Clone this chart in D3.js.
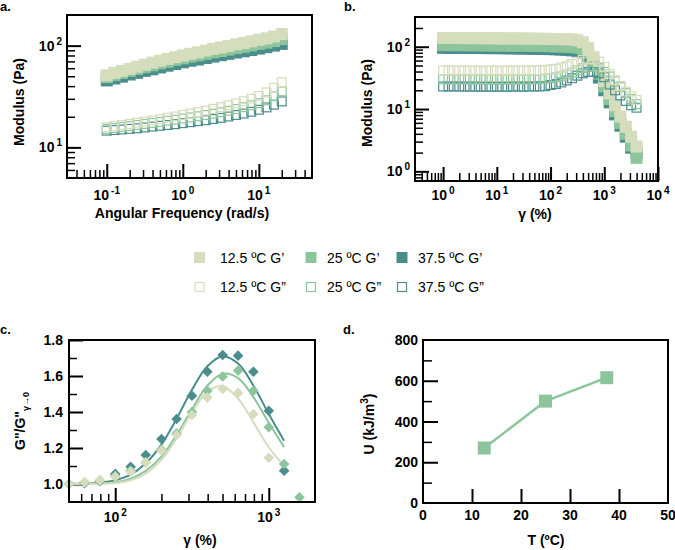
<!DOCTYPE html>
<html><head><meta charset="utf-8">
<script src="https://cdn.jsdelivr.net/npm/d3@7"></script>
<style>
body{margin:0;background:#fff;}
svg{display:block;}
text{font-family:"Liberation Sans",Arial,Helvetica,sans-serif;fill:#000;}
</style></head><body>
<script>
// ---------------- DATA ----------------
const seriesNames = ["12.5 ºC", "25 ºC", "37.5 ºC"];

// Panel a: frequency sweep
const freqA = [0.1, 0.126, 0.158, 0.2, 0.251, 0.316, 0.398, 0.501, 0.631, 0.794, 1, 1.26, 1.58, 2, 2.51, 3.16, 3.98, 5.01, 6.31, 7.94, 10, 12.6, 15.8, 20];
const aGp125 = [51, 54, 56.5, 59, 62, 65, 68, 71, 74, 77, 80, 83, 86, 89.5, 93, 96, 99, 103, 106, 110, 114, 118, 123, 130];
const aGp25  = [49, 51.5, 54, 56.5, 59, 61.5, 64, 67, 69.5, 72.5, 75, 78, 80.5, 83, 86, 88.5, 91.5, 94.5, 97.5, 100.5, 104, 107, 111, 116];
const aGp375 = [45.5, 47.5, 49.5, 52, 54, 56.5, 58.5, 61, 63.5, 66, 68.5, 71, 73, 75.5, 78, 80.5, 83, 85.5, 88, 90.5, 93.5, 96.5, 100, 104];
const aGpp125 = [15.8, 16.2, 16.6, 17.0, 17.5, 17.9, 18.4, 18.9, 19.5, 20.1, 20.8, 21.5, 22.2, 23.0, 23.9, 24.8, 25.9, 27.1, 28.5, 30.1, 32.0, 34.7, 38.5, 43.7];
const aGpp25  = [15.2, 15.5, 15.9, 16.2, 16.6, 17.0, 17.4, 17.8, 18.3, 18.7, 19.2, 19.7, 20.2, 20.8, 21.4, 22.1, 22.9, 23.8, 24.8, 25.9, 27.2, 29.0, 31.8, 35.5];
const aGpp375 = [14.6, 14.8, 15.0, 15.2, 15.4, 15.7, 16.0, 16.3, 16.6, 16.9, 17.3, 17.7, 18.1, 18.5, 19.0, 19.5, 20.1, 20.8, 21.5, 22.4, 23.4, 24.7, 26.3, 28.3];

// Panel b: amplitude sweep
const strainB = [1, 1.26, 1.58, 2, 2.51, 3.16, 3.98, 5.01, 6.31, 7.94, 10, 12.6, 15.8, 20, 25.1, 31.6, 39.8, 50.1, 63.1, 79.4, 100, 126, 158, 200, 251, 316, 398, 501, 631, 794, 1000, 1259, 1585, 1995, 2512, 3162, 3981];
const bGp125 = [138, 138, 138, 138, 137.5, 137.5, 137.5, 137, 137, 137, 136.5, 136.5, 136, 136, 135.5, 135.5, 135, 135, 134.5, 134, 133.5, 133, 132.5, 132, 131, 127, 118, 95, 68, 44, 28, 17.8, 11.5, 7.6, 5.2, 3.6, 2.5];
const bGp25  = [106, 106, 106, 106, 106, 105.5, 105.5, 105.5, 105, 105, 105, 104.5, 104.5, 104, 104, 103.5, 103.5, 103, 103, 102.5, 102, 101.5, 101, 100, 99, 97, 93, 80, 58, 37, 23, 14.5, 9.3, 6.0, 4.0, 2.6, 1.65];
const bGp375 = [96, 96, 96, 96, 96, 95.5, 95.5, 95.5, 95, 95, 95, 94.5, 94.5, 94, 94, 93.5, 93, 93, 92.5, 92, 91.5, 91, 90, 89, 87.5, 85, 81, 70, 50, 32, 20, 12.8, 8.2, 5.4, 3.6, 2.4, 2.0];
const bGpp125 = [41.5, 41.5, 41.5, 41.4, 41.4, 41.4, 41.3, 41.3, 41.3, 41.3, 41.3, 41.3, 41.3, 41.4, 41.4, 41.4, 41.5, 41.6, 41.9, 42.5, 43.4, 44.3, 46.5, 49.2, 52.8, 57.4, 61.5, 63.4, 62.5, 57.6, 47.6, 36.5, 29, 23.5, 19, 16, 14];
const bGpp25  = [30, 30, 30, 30, 29.9, 29.9, 29.9, 29.8, 29.8, 29.8, 29.8, 29.8, 29.8, 29.9, 29.9, 29.9, 30, 30, 30.3, 30.6, 31.4, 32.3, 33.6, 35.7, 38.4, 42, 45.5, 47.9, 48.9, 45.5, 39.5, 33.3, 27.8, 22.5, 18, 14.5, 12];
const bGpp375 = [23, 23, 23, 23, 22.9, 22.9, 22.9, 22.8, 22.8, 22.8, 22.8, 22.8, 22.8, 22.9, 22.9, 22.9, 23, 23, 23.1, 23.3, 24.3, 25.2, 26.7, 28.8, 31.3, 34.3, 37.4, 39.5, 39.4, 37.4, 32.4, 24.7, 20, 16.5, 13.5, 11.5, 10.5];

// Panel c: normalised loss modulus
const strainC = [50, 63.1, 79.4, 100, 126, 158, 200, 251, 316, 398, 501, 631, 794, 1000, 1259, 1585];
const cRatio125 = [1.00, 1.01, 1.02, 1.04, 1.068, 1.12, 1.185, 1.272, 1.383, 1.48, 1.528, 1.506, 1.389, 1.146, null, null];
const cRatio25  = [1.00, 1.01, 1.02, 1.045, 1.075, 1.12, 1.19, 1.28, 1.40, 1.518, 1.597, 1.63, 1.518, 1.315, 1.111, 0.926];
const cRatio375 = [1.00, 1.005, 1.015, 1.056, 1.096, 1.161, 1.25, 1.361, 1.49, 1.624, 1.717, 1.713, 1.624, 1.407, 1.074, null];
const fitX = [50, 63.1, 79.4, 100, 126, 158, 200, 251, 316, 398, 501, 631, 794, 1000, 1259];
const fit125 = [1.000, 1.000, 1.002, 1.006, 1.021, 1.058, 1.134, 1.254, 1.397, 1.512, 1.543, 1.475, 1.343, 1.204, 1.100];
const fit25  = [1.000, 1.001, 1.003, 1.010, 1.030, 1.073, 1.152, 1.272, 1.416, 1.546, 1.612, 1.588, 1.483, 1.340, 1.205];
const fit375 = [1.001, 1.002, 1.007, 1.021, 1.052, 1.115, 1.219, 1.363, 1.523, 1.654, 1.710, 1.669, 1.547, 1.389, 1.240];

// Panel d: energy vs temperature
const tempD = [12.5, 25, 37.5];
const energyD = [270, 500, 615];

// Tick values
const aXMajor = [0.1, 1, 10];
const aXMinor = [0.04, 0.05, 0.06, 0.07, 0.08, 0.09, 0.2, 0.3, 0.4, 0.5, 0.6, 0.7, 0.8, 0.9, 2, 3, 4, 5, 6, 7, 8, 9, 20, 30, 40];
const aYMajor = [10, 100];
const aYMinor = [6, 7, 8, 9, 20, 30, 40, 50, 60, 70, 80, 90];
const bXMajor = [1, 10, 100, 1000, 10000];
const bXMinor = [0.4, 0.5, 0.6, 0.7, 0.8, 0.9, 2, 3, 4, 5, 6, 7, 8, 9, 20, 30, 40, 50, 60, 70, 80, 90, 200, 300, 400, 500, 600, 700, 800, 900, 2000, 3000, 4000, 5000, 6000, 7000, 8000, 9000];
const bYMajor = [1, 10, 100];
const bYMinor = [0.8, 0.9, 2, 3, 4, 5, 6, 7, 8, 9, 20, 30, 40, 50, 60, 70, 80, 90, 200];
const cXMajor = [100, 1000];
const cXMinor = [60, 70, 80, 90, 200, 300, 400, 500, 600, 700, 800, 900];
const cYMajor = [1.0, 1.2, 1.4, 1.6, 1.8];
const cYMinor = [1.1, 1.3, 1.5, 1.7];
const dXLabels = [0, 10, 20, 30, 40, 50];
const dXMajor = [10, 20, 30, 40];
const dYLabels = [0, 200, 400, 600, 800];
const dYMajor = [200, 400, 600];
const dYMinor = [100, 300, 500, 700];

// ---------------- STYLE ----------------
const COL = ["#d5ddbd", "#8cc59c", "#4b8d8c"];
const W = 675, H = 550;
const MAJ = 14, MIN = 8;

const svg = d3.select("body").append("svg").attr("width", W).attr("height", H);

function tickLines(scale, orient, values, len, sw, pos) {
  const axis = (orient === "bottom" ? d3.axisBottom(scale) : d3.axisLeft(scale))
    .tickValues(values).tickSizeInner(-len).tickSizeOuter(0).tickFormat("");
  const g = svg.append("g")
    .attr("transform", orient === "bottom" ? `translate(0,${pos})` : `translate(${pos},0)`)
    .call(axis);
  g.select(".domain").remove();
  g.selectAll(".tick text").remove();
  g.selectAll(".tick line").attr("stroke", "#000").attr("stroke-width", sw);
}
function frame(xs, ys) {
  const [x0, x1] = xs.range(), [y0, y1] = ys.range();
  svg.append("rect").attr("x", x0).attr("y", y1).attr("width", x1 - x0).attr("height", y0 - y1)
    .attr("fill", "none").attr("stroke", "#000").attr("stroke-width", 2);
}
function powLabel(x, y, exp, anchor) {
  const t = svg.append("text").attr("x", x).attr("y", y).attr("text-anchor", anchor)
    .attr("font-size", 14).attr("font-weight", "bold");
  t.append("tspan").text("10");
  t.append("tspan").attr("font-size", 10).attr("dx", 2).attr("dy", -6).text(exp);
}
function plainLabel(x, y, txt, anchor, size, weight) {
  return svg.append("text").attr("x", x).attr("y", y).attr("text-anchor", anchor)
    .attr("font-size", size || 14).attr("font-weight", weight || "bold").text(txt);
}
function yTitle(x, y, build) {
  const t = svg.append("text").attr("transform", `translate(${x},${y}) rotate(-90)`)
    .attr("text-anchor", "middle").attr("font-size", 14).attr("font-weight", "bold");
  build(t);
}
function squares(xs, ys, xv, yv, size, color, filled) {
  const data = xv.map((x, i) => [x, yv[i]]).filter(d => d[1] != null);
  const s = filled ? size : size - 1.2;
  svg.append("g").selectAll("rect").data(data).join("rect")
    .attr("x", d => xs(d[0]) - s / 2).attr("y", d => ys(d[1]) - s / 2)
    .attr("width", s).attr("height", s)
    .attr("fill", filled ? color : "none")
    .attr("stroke", filled ? "none" : color).attr("stroke-width", filled ? 0 : 1.2);
}
function diamonds(xs, ys, xv, yv, side, color) {
  const data = xv.map((x, i) => [x, yv[i]]).filter(d => d[1] != null);
  const sym = d3.symbol(d3.symbolSquare, side * side);
  svg.append("g").selectAll("path").data(data).join("path")
    .attr("d", sym).attr("fill", color)
    .attr("transform", d => `translate(${xs(d[0])},${ys(d[1])}) rotate(45)`);
}

// ---------------- PANEL A ----------------
const xA = d3.scaleLog().domain([0.03, 50]).range([67, 312]);
const yA = d3.scaleLog().domain([5, 200]).range([178, 15]);
tickLines(xA, "bottom", aXMinor, MIN, 1.5, 178);
tickLines(xA, "bottom", aXMajor, MAJ, 2, 178);
tickLines(yA, "left", aYMinor, MIN, 1.5, 67);
tickLines(yA, "left", aYMajor, MAJ, 2, 67);
[[aGp375, 2], [aGp25, 1], [aGp125, 0]].forEach(([v, c]) => squares(xA, yA, freqA, v, 12, COL[c], true));
[[aGpp375, 2], [aGpp25, 1], [aGpp125, 0]].forEach(([v, c]) => squares(xA, yA, freqA, v, 10, COL[c], false));
frame(xA, yA);
aXMajor.forEach(v => powLabel(xA(v), 200, String(Math.round(Math.log10(v))), "middle"));
aYMajor.forEach(v => powLabel(62, yA(v) + 5, String(Math.round(Math.log10(v))), "end"));
plainLabel(182, 218, "Angular Frequency (rad/s)", "middle");
yTitle(24, 102, t => t.text("Modulus (Pa)"));
plainLabel(0, 11, "a.", "start", 13);

// ---------------- PANEL B ----------------
const xB = d3.scaleLog().domain([0.3, 10000]).range([415, 658]);
const yB = d3.scaleLog().domain([0.7, 300]).range([181, 17]);
tickLines(xB, "bottom", bXMinor, MIN, 1.5, 181);
tickLines(xB, "bottom", bXMajor, MAJ, 2, 181);
tickLines(yB, "left", bYMinor, MIN, 1.5, 415);
tickLines(yB, "left", bYMajor, MAJ, 2, 415);
[[bGp375, 2], [bGp25, 1], [bGp125, 0]].forEach(([v, c]) => squares(xB, yB, strainB, v, 12, COL[c], true));
[[bGpp375, 2], [bGpp25, 1], [bGpp125, 0]].forEach(([v, c]) => squares(xB, yB, strainB, v, 10, COL[c], false));
frame(xB, yB);
bXMajor.forEach(v => powLabel(xB(v), 200, String(Math.round(Math.log10(v))), "middle"));
bYMajor.forEach(v => powLabel(410, yB(v) + 5, String(Math.round(Math.log10(v))), "end"));
plainLabel(535, 219, "γ (%)", "middle");
yTitle(372, 103, t => t.text("Modulus (Pa)"));
plainLabel(344, 11, "b.", "start", 13);

// ---------------- LEGEND ----------------
const legX = [199.5, 311, 402];
const legTX = [220, 327, 418];
seriesNames.forEach((name, i) => {
  svg.append("rect").attr("x", legX[i] - 5.5).attr("y", 257.5 - 5.5).attr("width", 11).attr("height", 11)
    .attr("fill", COL[i]);
  svg.append("rect").attr("x", legX[i] - 4.5).attr("y", 287 - 4.5).attr("width", 9).attr("height", 9)
    .attr("fill", "none").attr("stroke", COL[i]).attr("stroke-width", 1.2);
  plainLabel(legTX[i], 262.5, name + " G\u2019", "start", 14, "normal");
  plainLabel(legTX[i], 292, name + " G\u201D", "start", 14, "normal");
});

// ---------------- PANEL C ----------------
const xC = d3.scaleLog().domain([50, 2000]).range([69, 315]);
const yC = d3.scaleLinear().domain([0.9, 1.8]).range([502, 340]);
tickLines(xC, "bottom", cXMinor, MIN, 1.5, 502);
tickLines(xC, "bottom", cXMajor, MAJ, 2, 502);
tickLines(yC, "left", cYMinor, MIN, 1.5, 69);
tickLines(yC, "left", cYMajor, MAJ, 2, 69);
const lineC = d3.line().x(d => xC(d[0])).y(d => yC(d[1])).curve(d3.curveCatmullRom);
[[fit375, 2], [fit25, 1], [fit125, 0]].forEach(([v, c]) => {
  svg.append("path").attr("d", lineC(fitX.map((x, i) => [x, v[i]])))
    .attr("fill", "none").attr("stroke", COL[c]).attr("stroke-width", 2);
});
[[cRatio375, 2], [cRatio25, 1], [cRatio125, 0]].forEach(([v, c]) => diamonds(xC, yC, strainC, v, 7.5, COL[c]));
frame(xC, yC);
cXMajor.forEach(v => powLabel(xC(v), 522, String(Math.round(Math.log10(v))), "middle"));
cYMajor.forEach(v => plainLabel(63, yC(v) + 5, d3.format(".1f")(v), "end"));
plainLabel(200, 545, "γ (%)", "middle");
yTitle(25, 421, t => {
  t.append("tspan").text("G\"/G\"");
  t.append("tspan").attr("font-size", 9).attr("dy", 4).text("γ→0");
});
plainLabel(0, 334, "c.", "start", 13);

// ---------------- PANEL D ----------------
const xD = d3.scaleLinear().domain([0, 50]).range([423, 668]);
const yD = d3.scaleLinear().domain([0, 800]).range([503, 340]);
tickLines(xD, "bottom", dXMajor, MAJ, 2, 503);
tickLines(yD, "left", dYMinor, 9, 1.5, 423);
tickLines(yD, "left", dYMajor, 15, 2, 423);
svg.append("path").attr("d", d3.line().x(d => xD(d[0])).y(d => yD(d[1]))(tempD.map((t, i) => [t, energyD[i]])))
  .attr("fill", "none").attr("stroke", COL[1]).attr("stroke-width", 2.5);
squares(xD, yD, tempD, energyD, 13, COL[1], true);
frame(xD, yD);
dXLabels.forEach(v => plainLabel(xD(v), 520, String(v), "middle"));
dYLabels.forEach(v => plainLabel(418, yD(v) + 5, String(v), "end"));
plainLabel(546, 545, "T (ºC)", "middle");
yTitle(374, 424, t => {
  t.append("tspan").text("U (kJ/m");
  t.append("tspan").attr("font-size", 10).attr("dy", -6).text("3");
  t.append("tspan").attr("dy", 6).text(")");
});
plainLabel(343, 334, "d.", "start", 13);
</script>
</body></html>
